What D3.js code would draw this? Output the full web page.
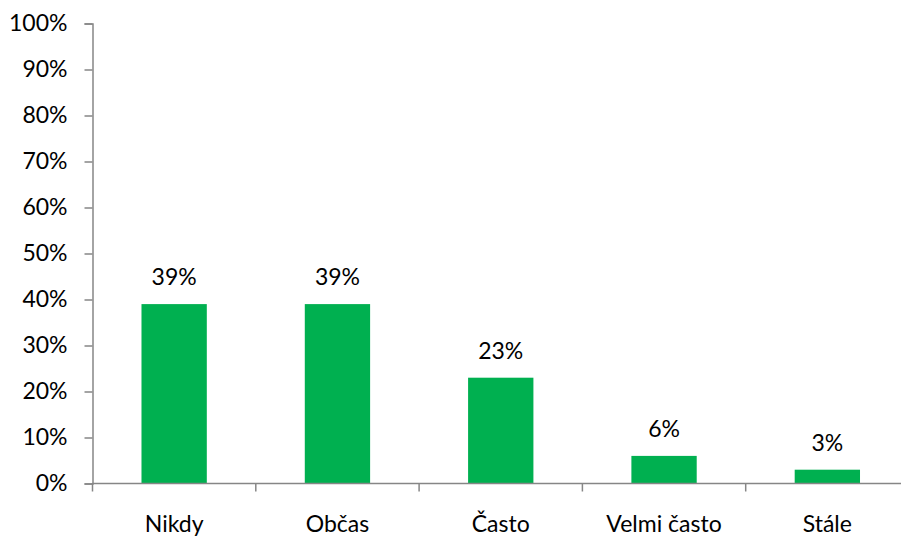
<!doctype html>
<html lang="cs">
<head>
    <meta charset="utf-8">
    <script src="https://d3js.org/d3.v7.min.js"></script>
    <style>
        body { margin: 0; background: #fff; }
        text { font-family: Lato, "Open Sans", sans-serif; fill: #000; }
    </style>
</head>
<body>
    <script>
        var categories = ["Nikdy", "Občas", "Často", "Velmi často", "Stále"];
        var values = [0.39, 0.39, 0.23, 0.06, 0.03];
        var yTicks = [0, 0.1, 0.2, 0.3, 0.4, 0.5, 0.6, 0.7, 0.8, 0.9, 1];

        var width = 901,
            height = 537;
        var plotLeft = 92.5, plotTop = 23.5, plotBottom = 483.5;
        var fontSize = "23px";

        var svg = d3.select("body").append("svg")
            .attr("width", width)
            .attr("height", height);

        var x = d3.scaleBand()
            .domain(categories)
            .range([plotLeft, plotLeft + 5 * 163.3])
            .paddingInner(0.6)
            .paddingOuter(0.3);

        var y = d3.scaleLinear()
            .domain([0, 1])
            .range([plotBottom, plotTop]);

        // bars
        svg.selectAll("rect.bar")
            .data(values)
            .enter().append("rect")
            .attr("class", "bar")
            .attr("x", function(d, i) { return x(categories[i]); })
            .attr("y", function(d) { return y(d); })
            .attr("width", x.bandwidth())
            .attr("height", function(d) { return y(0) - y(d); })
            .attr("fill", "#00B050");

        // value labels
        svg.selectAll("text.val")
            .data(values)
            .enter().append("text")
            .attr("class", "val")
            .attr("x", function(d, i) { return x(categories[i]) + x.bandwidth() / 2; })
            .attr("y", function(d) { return y(d) - 19; })
            .attr("text-anchor", "middle")
            .style("font-size", fontSize)
            .text(function(d) { return Math.round(d * 100) + "%"; });

        // y axis
        var yAxis = d3.axisLeft(y)
            .tickValues(yTicks)
            .tickSize(8)
            .tickPadding(17)
            .tickFormat(d3.format(".0%"));
        var gy = svg.append("g")
            .attr("transform", "translate(" + plotLeft + ",0)")
            .call(yAxis);
        gy.select(".domain").attr("stroke", "#868686").attr("stroke-width", 1.5);
        gy.selectAll(".tick line").attr("stroke", "#868686").attr("stroke-width", 1.5);
        gy.selectAll(".tick text")
            .style("font-size", fontSize)
            .attr("fill", "#000");
        gy.attr("font-family", null).attr("font-size", null);

        // x axis: tick marks at category boundaries
        var xEdge = d3.scaleLinear()
            .domain([0, categories.length])
            .range(x.range());
        var gx = svg.append("g");
        gx.append("line")
            .attr("x1", plotLeft).attr("x2", width)
            .attr("y1", plotBottom).attr("y2", plotBottom)
            .attr("stroke", "#868686").attr("stroke-width", 1.5);
        gx.selectAll("line.tk")
            .data(d3.range(categories.length + 1))
            .enter().append("line")
            .attr("class", "tk")
            .attr("x1", function(d) { return xEdge(d); })
            .attr("x2", function(d) { return xEdge(d); })
            .attr("y1", plotBottom)
            .attr("y2", plotBottom + 8)
            .attr("stroke", "#868686").attr("stroke-width", 1.5);
        gx.selectAll("text.cat")
            .data(categories)
            .enter().append("text")
            .attr("class", "cat")
            .attr("x", function(d) { return x(d) + x.bandwidth() / 2; })
            .attr("y", 532)
            .attr("text-anchor", "middle")
            .style("font-size", fontSize)
            .text(function(d) { return d; });
    </script>
</body>
</html>
